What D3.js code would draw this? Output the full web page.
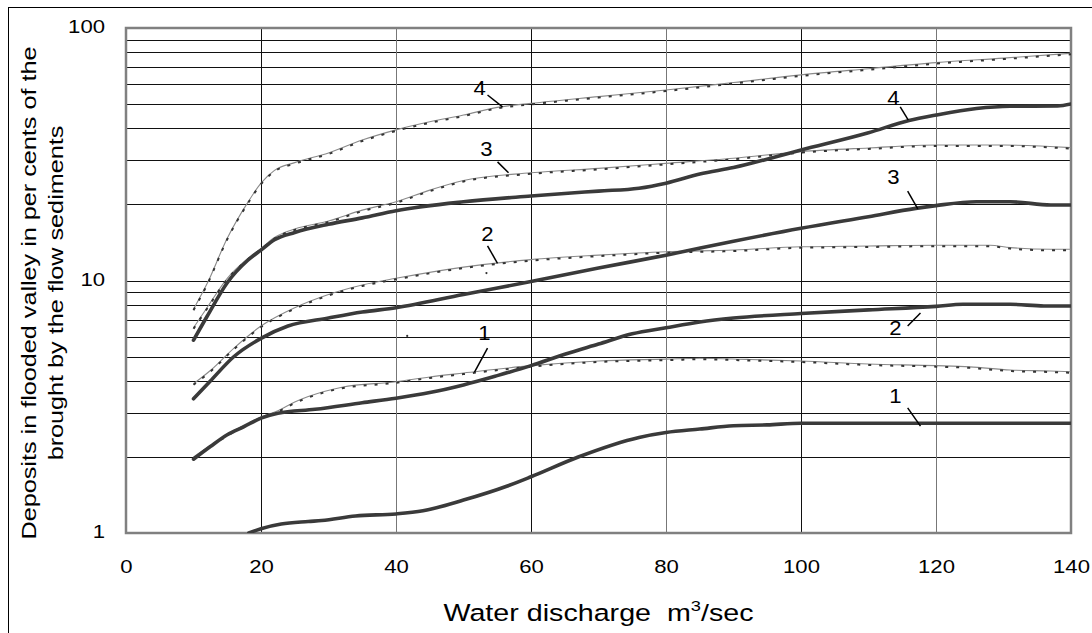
<!DOCTYPE html>
<html><head><meta charset="utf-8">
<script src="https://cdn.jsdelivr.net/npm/d3@7"></script>
<style>body{margin:0;background:#fff}svg{display:block}text{font-family:"Liberation Sans",Arial,sans-serif;fill:#000}</style>
</head><body>
<script>
// ---- data ----
const xTicks = [0, 20, 40, 60, 80, 100, 120, 140];
const yTickLabels = [1, 10, 100];
const yGrid = [2,3,4,5,6,7,8,9,10,20,30,40,50,60,70,80,90];
const xGrid = [20, 40, 60, 80, 100, 120];

// thin (computed, dotted) curves
const thin1 = [[10,2.0],[12.5,2.22],[15,2.45],[17.5,2.68],[20,2.88],[22.5,3.05],[25,3.3],[27,3.47],[32,3.78],[40,3.97],[45,4.15],[50,4.3],[60,4.6],[70,4.8],[80,4.88],[85,4.92],[92,4.87],[100,4.8],[110,4.67],[120,4.6],[125,4.55],[131,4.42],[137,4.38],[140,4.35]];
const thin2 = [[10,3.9],[12.5,4.4],[16,5.4],[20,6.6],[25,7.8],[30,8.8],[35,9.6],[40,10.2],[50,11.3],[60,12.1],[70,12.6],[80,13.0],[90,13.2],[100,13.6],[110,13.7],[120,13.8],[128,13.8],[131,13.5],[137,13.3],[140,13.3]];
const thin3 = [[10,6.5],[12,7.8],[15,10.2],[18,12.2],[20,13.4],[22,14.8],[25,16],[30,17.2],[35,19],[40,20.5],[45,22.8],[50,24.9],[60,26.7],[70,27.8],[80,29.1],[90,30.5],[100,32.4],[110,33.5],[120,34.4],[130,34.4],[140,33.6]];
const thin4 = [[10,7.7],[12,9.7],[15,14.7],[18,20.3],[20,24.3],[22,27.3],[25,29.3],[30,32],[35,36],[40,39.5],[45,42.5],[50,45.2],[55,48.5],[60,50.3],[70,53.5],[80,56.8],[90,60.8],[100,65.2],[110,69],[120,72.9],[130,76],[140,79.4]];

// thick (measured) curves
const thick1 = [[18.2,1.0],[20,1.04],[23,1.085],[27,1.11],[29,1.12],[34,1.168],[40,1.19],[44,1.225],[50,1.35],[56.5,1.535],[60,1.67],[67,2.0],[76,2.39],[80,2.5],[85,2.58],[90,2.66],[95,2.68],[100,2.72],[120,2.72],[140,2.72]];
const thick2 = [[10,1.96],[12.5,2.2],[15,2.45],[17.5,2.64],[20,2.85],[22.5,2.98],[28,3.09],[35,3.28],[40,3.42],[45,3.6],[50,3.86],[55,4.2],[60,4.6],[65,5.1],[70,5.6],[75,6.15],[80,6.5],[85,6.85],[90,7.1],[100,7.4],[110,7.65],[120,7.9],[124,8.05],[131,8.05],[136,7.93],[140,7.93]];
const thick3 = [[10,3.4],[12.5,4.0],[16,5.0],[20,5.9],[24,6.6],[30,7.1],[35,7.5],[40,7.8],[50,8.8],[60,9.9],[70,11.2],[80,12.6],[90,14.3],[100,16.1],[110,17.9],[117,19.3],[120,19.8],[126,20.5],[131,20.5],[137,19.9],[140,19.9]];
const thick4 = [[10,5.8],[12,7.2],[15,9.8],[18,12],[20,13.2],[22,14.5],[25,15.5],[30,16.7],[35,17.7],[40,18.9],[50,20.5],[60,21.6],[70,22.6],[76,23.2],[80,24.3],[85,26.4],[90,28],[100,32.9],[110,38.5],[116,43],[120,45.2],[126,48],[131,49],[138,49.1],[140,50]];

// stray points visible in the source
const strayPoints = [[41.66,6.03],[53.4,10.7]];

// curve labels (data coordinates) with leader lines
const curveLabels = [
  {t:"4", at:[52.4,57.9], lead:[[53.56,54.3],[55.78,48.7]]},
  {t:"3", at:[53.4,33.2], lead:[[55.04,29.5],[56.67,26.7]]},
  {t:"2", at:[53.56,15.3], lead:[[53.56,13.7],[55.04,11.7]]},
  {t:"1", at:[53.1,6.2], lead:[[53.56,5.4],[51.63,4.34]]},
  {t:"4", at:[113.7,53.3], lead:[[114.7,48.7],[115.9,43.2]]},
  {t:"3", at:[113.7,25.7], lead:[[115.8,22.6],[117.3,19.2]]},
  {t:"2", at:[114.0,6.54], lead:[[115.8,6.6],[117.7,7.43]]},
  {t:"1", at:[114.0,3.52], lead:[[115.8,3.13],[117.7,2.65]]}
];

// ---- drawing ----
const W = 1092, H = 633;
const SX = 1.19; // horizontal glyph stretch seen in the source
const svg = d3.select("body").append("svg").attr("width", W).attr("height", H);
svg.append("rect").attr("width", W).attr("height", H).attr("fill", "#fff");
// outer frame
svg.append("rect").attr("x", 8.5).attr("y", 7.5).attr("width", 1100).attr("height", 700)
  .attr("fill", "none").attr("stroke", "#000").attr("stroke-width", 1);

const L = 126, R = 1071, T = 28, B = 533;
const x = d3.scaleLinear().domain([0, 140]).range([L, R]);
const y = d3.scaleLog().domain([1, 100]).range([B, T]);

const g = svg.append("g");
// grid
g.selectAll(".hg").data(yGrid).enter().append("line")
  .attr("x1", L).attr("x2", R).attr("y1", d => Math.round(y(d)) + 0.5).attr("y2", d => Math.round(y(d)) + 0.5)
  .attr("stroke", "#111").attr("stroke-width", 1).attr("shape-rendering", "crispEdges");
g.selectAll(".vg").data(xGrid).enter().append("line")
  .attr("y1", T).attr("y2", B).attr("x1", d => Math.round(x(d)) + 0.5).attr("x2", d => Math.round(x(d)) + 0.5)
  .attr("stroke", (d, i) => i % 2 ? "#777" : "#111").attr("stroke-width", 1).attr("shape-rendering", "crispEdges");

// plot border
g.append("rect").attr("x", L).attr("y", T).attr("width", R - L).attr("height", B - T)
  .attr("fill", "none").attr("stroke", "#808080").attr("stroke-width", 2.5);

// axes tick labels
const xAxis = d3.axisBottom(x).tickValues(xTicks).tickSize(0).tickPadding(0).tickFormat(d3.format("d"));
const xa = svg.append("g").attr("transform", `translate(0,${B})`).call(xAxis);
xa.select(".domain").remove();
xa.selectAll("text").attr("font-size", 18.6).attr("font-family", '"Liberation Sans",Arial,sans-serif')
  .attr("fill", "#000").attr("y", 40).attr("dy", null).attr("transform", `scale(${SX},1)`);

const yAxis = d3.axisLeft(y).tickValues(yTickLabels).tickSize(0).tickPadding(0).tickFormat(d3.format("d"));
const ya = svg.append("g").attr("transform", `translate(${L},0)`).call(yAxis);
ya.select(".domain").remove();
ya.selectAll("text").attr("font-size", 18.6).attr("font-family", '"Liberation Sans",Arial,sans-serif')
  .attr("fill", "#000").attr("x", -21 / SX).attr("y", 4.5).attr("dy", null).attr("transform", `scale(${SX},1)`);

// curves
svg.append("clipPath").attr("id", "clip").append("rect")
  .attr("x", L).attr("y", T).attr("width", R - L).attr("height", B - T);
const cg = svg.append("g").attr("clip-path", "url(#clip)");
const line = d3.line().x(d => x(d[0])).y(d => y(d[1])).curve(d3.curveMonotoneX);

[thin1, thin2, thin3, thin4].forEach(s => {
  cg.append("path").attr("d", line(s)).attr("fill", "none").attr("stroke", "#8a8a8a").attr("stroke-width", 1.1);
  cg.append("path").attr("d", line(s)).attr("fill", "none").attr("stroke", "#333")
    .attr("stroke-width", 2).attr("stroke-dasharray", "3,8").attr("transform", "translate(0,1)");
});
[thick1, thick2, thick3, thick4].forEach(s => {
  cg.append("path").attr("d", line(s)).attr("fill", "none").attr("stroke", "#3a3a3a")
    .attr("stroke-width", 3.6).attr("stroke-linejoin", "round").attr("stroke-linecap", "round");
});
cg.selectAll(".stray").data(strayPoints).enter().append("circle")
  .attr("cx", d => x(d[0])).attr("cy", d => y(d[1])).attr("r", 1.1).attr("fill", "#333");

// curve labels
const lg = svg.append("g");
curveLabels.forEach(c => {
  lg.append("g").attr("transform", `translate(${x(c.at[0])},${y(c.at[1])}) scale(1.08,1)`)
    .append("text").attr("y", 7.5).attr("text-anchor", "middle").attr("font-size", 20.5).text(c.t);
  lg.append("line").attr("x1", x(c.lead[0][0])).attr("y1", y(c.lead[0][1]))
    .attr("x2", x(c.lead[1][0])).attr("y2", y(c.lead[1][1]))
    .attr("stroke", "#000").attr("stroke-width", 1.5);
});

// axis titles
const xt = svg.append("g").attr("transform", `translate(${(L + R) / 2},621) scale(1.22,1)`)
  .append("text").attr("x", 0).attr("y", 0).attr("text-anchor", "middle").attr("font-size", 23.5)
  .attr("xml:space", "preserve").style("white-space", "pre");
xt.append("tspan").text("Water discharge  m");
xt.append("tspan").attr("font-size", 15).attr("dy", -10).text("3");
xt.append("tspan").attr("dy", 10).text("/sec");

const yt = svg.append("g").attr("transform", "translate(0,293) rotate(-90) scale(1.2,1)");
yt.append("text").attr("x", 0).attr("y", 36).attr("text-anchor", "middle").attr("font-size", 21)
  .text("Deposits in flooded valley in per cents of the");
yt.append("text").attr("x", 0).attr("y", 63).attr("text-anchor", "middle").attr("font-size", 21)
  .text("brought by the flow sediments");
</script>
</body></html>
